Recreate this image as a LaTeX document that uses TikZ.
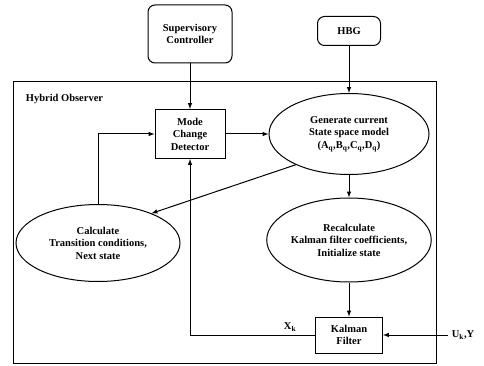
\documentclass[tikz,border=0pt]{standalone}
\usepackage{fontspec}
\setmainfont{Liberation Serif}
\usetikzlibrary{arrows,shapes.geometric}

\begin{document}
\begin{tikzpicture}[x=1pt, y=-1pt, >=latex, line width=1pt,
    font=\bfseries\fontsize{10.5}{12.5}\selectfont,
    block/.style={draw, align=center, inner sep=1pt},
    rblock/.style={block, rounded corners=7pt},
    oval/.style={draw, ellipse, align=center, inner sep=0pt}]
    \useasboundingbox (0,0) rectangle (484,366);

    % Outside the observer
    \node[rblock, minimum width=84, minimum height=58] (sup) at (190,34) {Supervisory\\Controller};
    \node[rblock, minimum width=63, minimum height=29] (hbg) at (349,31) {HBG};

    % Observer frame
    \node[draw, minimum width=423, minimum height=281] (obs) at (224.5,222.5) {};
    \node[anchor=west] (title) at (22,99) {Hybrid Observer};

    % Blocks inside
    \node[block, minimum width=70, minimum height=49] (mcd) at (190,134) {Mode\\Change\\Detector};
    \node[oval, minimum width=160, minimum height=81] (gen) at (349,134)
        {Generate current\\State space model\\(A\textsubscript{q},B\textsubscript{q},C\textsubscript{q},D\textsubscript{q})};
    \node[oval, minimum width=164, minimum height=77] (calc) at (98,243)
        {Calculate\\Transition conditions,\\Next state};
    \node[oval, minimum width=162, minimum height=84] (recalc) at (349,240)
        {Recalculate\\Kalman filter coefficients,\\Initialize state};
    \node[block, minimum width=67, minimum height=36] (kf) at (349,335) {Kalman\\Filter};
    \coordinate (in) at (448,335);

    % Vertical arrows
    \path[->] (sup) edge (mcd);
    \path[->] (hbg) edge (gen);
    \path[->] (gen) edge (recalc);
    \path[->] (recalc) edge (kf);

    % Other arrows
    \path[->] (mcd) edge (gen);
    \path[->] (gen.210) edge (calc.29);
    \draw[->] (calc) |- (mcd);
    \draw[->] (kf) -| node[pos=0.1, above] {X\textsubscript{k}} (mcd);
    \draw[->] (in) node[right] {U\textsubscript{k},Y} -- (kf);
\end{tikzpicture}
\end{document}
